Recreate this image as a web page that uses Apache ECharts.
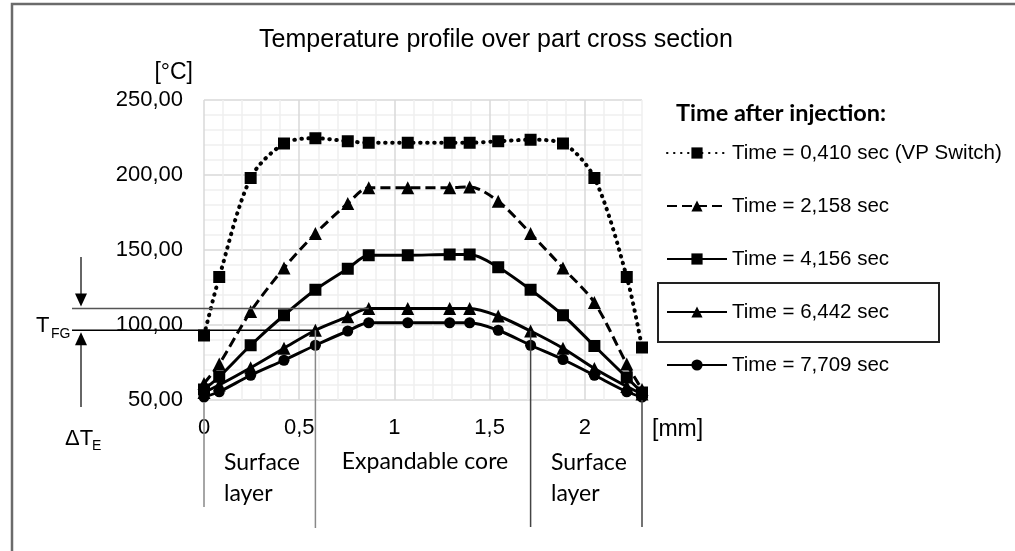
<!DOCTYPE html>
<html>
<head>
<meta charset="utf-8">
<script src="https://cdn.jsdelivr.net/npm/echarts@6/dist/echarts.min.js"></script>
<style>
  html, body { margin: 0; padding: 0; background: #fff; }
  #chart { width: 1015px; height: 551px; }
</style>
</head>
<body>
<div id="chart"></div>
<script>
// positions over the part cross section [mm]
var positions = [0, 0.08, 0.245, 0.42, 0.585, 0.755, 0.865, 1.07, 1.29, 1.395, 1.545, 1.715, 1.885, 2.05, 2.22, 2.3];

var seriesNames = [
  'Time = 0,410 sec (VP Switch)',
  'Time = 2,158 sec',
  'Time = 4,156 sec',
  'Time = 6,442 sec',
  'Time = 7,709 sec'
];

// temperatures [°C]
var t0410 = [93, 132, 198, 221, 224.5, 222.5, 221.5, 221.5, 221.5, 221.5, 222.5, 223.5, 221, 198, 132, 85];
var t2158 = [61, 74, 109, 138, 161, 181, 191.5, 191.5, 191.5, 192, 182.5, 161, 138, 115, 74, 57];
var t4156 = [57, 65.5, 86.5, 106.5, 123.5, 137.5, 146.5, 146.5, 147, 147, 138.5, 123.5, 106.5, 86, 65, 55];
var t6442 = [55, 60, 71.5, 84.5, 96.5, 105.5, 111, 111, 111, 111, 106, 96, 84.5, 71, 59, 54];
var t7709 = [52, 55.5, 66.5, 76.5, 86.5, 96, 101.5, 101.5, 101.5, 101.5, 96.5, 86.5, 77, 66.5, 55.5, 52];

var xTicks = [0, 0.5, 1, 1.5, 2];
var yTicks = [50, 100, 150, 200, 250];

var chart = echarts.init(document.getElementById('chart'));

function pairs(ys) {
  return positions.map(function (x, i) { return [x, ys[i]]; });
}

var styles = [
  { symbol: 'rect', size: 12, line: { type: [0.5, 6.5], cap: 'round', width: 4 } },
  { symbol: 'triangle', size: 13, line: { type: [10, 5], width: 3 } },
  { symbol: 'rect', size: 12, line: { type: 'solid', width: 3 } },
  { symbol: 'triangle', size: 13, line: { type: 'solid', width: 3 } },
  { symbol: 'circle', size: 11, line: { type: 'solid', width: 3 } }
];
var values = [t0410, t2158, t4156, t6442, t7709];

var series = values.map(function (v, i) {
  var st = styles[i];
  return {
    name: seriesNames[i],
    type: 'line',
    smooth: 0.3,
    symbol: st.symbol,
    symbolSize: st.size,
    showAllSymbol: true,
    clip: false,
    itemStyle: { color: '#000' },
    lineStyle: Object.assign({ color: '#000' }, st.line),
    data: pairs(v),
    z: 10 - i
  };
});

// one legend per entry so the rows sit where they do in the original
var legends = seriesNames.map(function (name, i) {
  return {
    data: [name],
    left: 666,
    top: 141 + i * 53,
    padding: 0,
    itemWidth: 60,
    itemHeight: 14,
    textStyle: { fontFamily: 'Liberation Sans', fontSize: 20.5, color: '#000', lineHeight: 24 },
    selectedMode: false
  };
});

var majorGrid = '#d9d9d9', minorGrid = '#efefef';

chart.setOption({
  animation: false,
  title: {
    text: 'Temperature profile over part cross section',
    left: 491,
    top: 23,
    textAlign: 'center',
    textStyle: { fontFamily: 'Liberation Sans', fontSize: 25, fontWeight: 'normal', color: '#000' }
  },
  legend: legends,
  grid: { left: 204, right: 373, top: 100, bottom: 151 },
  xAxis: {
    type: 'value',
    min: 0,
    max: 2.3,
    interval: 0.1,
    axisLine: { show: false },
    axisTick: { show: false },
    axisLabel: {
      margin: 17,
      fontFamily: 'Liberation Sans',
      fontSize: 22,
      color: '#000',
      showMaxLabel: false,
      formatter: function (v) {
        var r = Math.round(v * 10) / 10;
        return xTicks.indexOf(r) >= 0 ? String(r).replace('.', ',') : '';
      }
    },
    splitLine: { show: true, lineStyle: { color: [majorGrid, minorGrid, minorGrid, minorGrid, minorGrid], width: 1.5 } }
  },
  yAxis: {
    type: 'value',
    min: 50,
    max: 250,
    interval: 10,
    axisLine: { show: false },
    axisTick: { show: false },
    axisLabel: {
      margin: 21,
      fontFamily: 'Liberation Sans',
      fontSize: 22,
      color: '#000',
      formatter: function (v) {
        return yTicks.indexOf(Math.round(v)) >= 0 ? v.toFixed(2).replace('.', ',') : '';
      }
    },
    splitLine: { show: true, lineStyle: { color: [majorGrid, minorGrid, minorGrid, minorGrid, minorGrid], width: 1.5 } }
  },
  series: series
});

// annotations tied to the data through the axes
function px(x, y) { return chart.convertToPixel({ gridIndex: 0 }, [x, y]); }
var pTop = px(positions[6], t6442[6]);
var pLow = px(positions[4], t6442[4]);
var pRight = px(positions[11], t6442[11]);
var p0 = px(0, 50);
var pEnd = px(2.3, 50);

var txt = function (x, y, text, size, family, extra) {
  return {
    type: 'text', x: x, y: y, z: 50,
    style: Object.assign({ text: text, fill: '#000', fontSize: size, fontFamily: family, textVerticalAlign: 'middle' }, extra || {})
  };
};
var line = function (x1, y1, x2, y2, color, w) {
  return { type: 'line', z: 40, shape: { x1: x1, y1: y1, x2: x2, y2: y2 }, style: { stroke: color, lineWidth: w } };
};

chart.setOption({
  graphic: [
    // frame
    { type: 'polyline', z: 60, shape: { points: [[1015, 4], [12, 4], [12, 551]] }, style: { stroke: '#6b6b6b', lineWidth: 2.5, fill: null } },
    // axis units
    txt(193, 73, '[°C]', 23, 'Liberation Sans', { textAlign: 'right' }),
    txt(652, 430, '[mm]', 23, 'Liberation Sans'),
    // legend heading and highlight box
    txt(676, 113, 'Time after injection:', 23.5, 'Lato', { fontWeight: 'bold' }),
    { type: 'rect', z: 30, shape: { x: 658, y: 283, width: 281, height: 59 }, style: { stroke: '#222', lineWidth: 2, fill: null } },
    // T_FG reference lines
    line(72, pTop[1], pTop[0], pTop[1], '#555', 1.5),
    line(72, pLow[1], pLow[0], pLow[1], '#000', 1.5),
    // arrows
    line(81, 257, 81, pTop[1] - 14, '#333', 1.5),
    { type: 'polygon', z: 40, shape: { points: [[75, pTop[1] - 15], [87, pTop[1] - 15], [81, pTop[1] - 2]] }, style: { fill: '#000' } },
    line(81, pLow[1] + 14, 81, 407, '#333', 1.5),
    { type: 'polygon', z: 40, shape: { points: [[75, pLow[1] + 15], [87, pLow[1] + 15], [81, pLow[1] + 2]] }, style: { fill: '#000' } },
    txt(36, 326, 'T', 22, 'Liberation Sans'),
    txt(51, 334, 'FG', 14, 'Liberation Sans'),
    txt(65, 439, 'ΔT', 22, 'Liberation Sans'),
    txt(92, 446, 'E', 14, 'Liberation Sans'),
    // zone dividers
    line(p0[0], p0[1] + 3, p0[0], 507, '#888', 1.5),
    line(pLow[0], pLow[1], pLow[0], 528, '#888', 1.5),
    line(pRight[0], pRight[1], pRight[0], 527, '#444', 1.5),
    line(pEnd[0], pEnd[1], pEnd[0], 527, '#444', 1.5),
    // zone labels
    txt(224, 463, 'Surface', 23, 'Lato'),
    txt(224, 494, 'layer', 23, 'Lato'),
    txt(425, 462, 'Expandable core', 23, 'Lato', { textAlign: 'center' }),
    txt(551, 463, 'Surface', 23, 'Lato'),
    txt(551, 494, 'layer', 23, 'Lato')
  ]
});
</script>
</body>
</html>
